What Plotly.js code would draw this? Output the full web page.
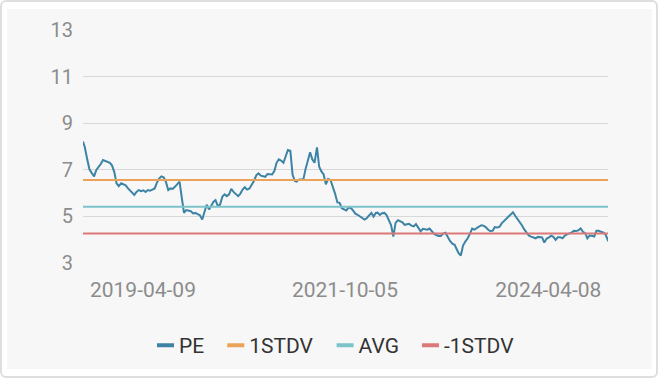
<!DOCTYPE html>
<html>
<head>
<meta charset="utf-8">
<script src="https://cdn.plot.ly/plotly-3.0.1.min.js"></script>
<style>
  html, body { margin: 0; padding: 0; background: #ffffff; }
  #frame { position: absolute; left: 0; top: 0; width: 658px; height: 378px; box-sizing: border-box;
           border: 2px solid #dedede; border-radius: 6px; background: #ffffff; }
  #chart { position: absolute; left: 7px; top: 9px; width: 645px; height: 360px; }
</style>
</head>
<body>
<div id="frame"></div>
<div id="chart"></div>
<script>
// ---- data ----
const dates = [
  '2018-07-13','2018-07-21','2018-08-01','2018-08-11','2018-08-21','2018-09-01','2018-09-11','2018-09-21',
  '2018-10-01','2018-10-11','2018-10-21','2018-11-01','2018-11-11','2018-11-21','2018-12-01','2018-12-11','2018-12-21',
  '2019-01-01','2019-01-11','2019-01-21','2019-02-01','2019-02-11','2019-02-21','2019-03-01','2019-03-11','2019-03-21',
  '2019-04-01','2019-04-11','2019-04-21','2019-05-01','2019-05-11','2019-05-21','2019-06-01','2019-06-11','2019-06-21',
  '2019-07-01','2019-07-11','2019-07-21','2019-08-01','2019-08-11','2019-08-21','2019-09-01','2019-09-11','2019-09-21',
  '2019-10-01','2019-10-11','2019-10-21','2019-11-01','2019-11-11','2019-11-21','2019-12-01','2019-12-11','2019-12-21',
  '2020-01-01','2020-01-11','2020-01-21','2020-02-01','2020-02-11','2020-02-21','2020-03-01','2020-03-11','2020-03-21',
  '2020-04-01','2020-04-11','2020-04-21','2020-05-01','2020-05-11','2020-05-21','2020-06-01','2020-06-11','2020-06-21',
  '2020-07-01','2020-07-11','2020-07-21','2020-08-01','2020-08-11','2020-08-21','2020-09-01','2020-09-11','2020-09-21',
  '2020-10-01','2020-10-11','2020-10-21','2020-11-01','2020-11-11','2020-11-21','2020-12-01','2020-12-11','2020-12-21',
  '2021-01-01','2021-01-11','2021-01-21','2021-02-01','2021-02-11','2021-02-21','2021-03-01','2021-03-11','2021-03-21',
  '2021-04-01','2021-04-11','2021-04-21','2021-05-01','2021-05-11','2021-05-21','2021-06-01','2021-06-11','2021-06-21',
  '2021-07-01','2021-07-11','2021-07-21','2021-08-01','2021-08-11','2021-08-21','2021-09-01','2021-09-11','2021-09-21',
  '2021-10-01','2021-10-11','2021-10-21','2021-11-01','2021-11-11','2021-11-21','2021-12-01','2021-12-11','2021-12-21',
  '2022-01-01','2022-01-11','2022-01-21','2022-02-01','2022-02-11','2022-02-21','2022-03-01','2022-03-11','2022-03-21',
  '2022-04-01','2022-04-11','2022-04-21','2022-05-01','2022-05-11','2022-05-21','2022-06-01','2022-06-11','2022-06-21',
  '2022-07-01','2022-07-11','2022-07-21','2022-08-01','2022-08-11','2022-08-21','2022-09-01','2022-09-11','2022-09-21',
  '2022-10-01','2022-10-11','2022-10-21','2022-11-01','2022-11-11','2022-11-21','2022-12-01','2022-12-11','2022-12-21',
  '2023-01-01','2023-01-11','2023-01-21','2023-02-01','2023-02-11','2023-02-21','2023-03-01','2023-03-11','2023-03-21',
  '2023-04-01','2023-04-11','2023-04-21','2023-05-01','2023-05-11','2023-05-21','2023-06-01','2023-06-11','2023-06-21',
  '2023-07-01','2023-07-11','2023-07-21','2023-08-01','2023-08-11','2023-08-21','2023-09-01','2023-09-11','2023-09-21',
  '2023-10-01','2023-10-11','2023-10-21','2023-11-01','2023-11-11','2023-11-21','2023-12-01','2023-12-11','2023-12-21',
  '2024-01-01','2024-01-11','2024-01-21','2024-02-01','2024-02-11','2024-02-21','2024-03-01','2024-03-11','2024-03-21',
  '2024-04-01','2024-04-11','2024-04-21','2024-05-01','2024-05-11','2024-05-21','2024-06-01','2024-06-11','2024-06-21',
  '2024-07-01','2024-07-11','2024-07-21','2024-08-01','2024-08-11','2024-08-21','2024-09-01','2024-09-11','2024-09-21',
  '2024-10-01','2024-10-11','2024-10-21','2024-11-01','2024-11-11','2024-11-21','2024-12-01','2024-12-11','2024-12-21',
  '2025-01-01','2025-01-02'
];

const pe = [
  8.21,7.98,7.45,7.02,6.87,6.72,6.99,7.10,
  7.25,7.42,7.38,7.33,7.30,7.18,6.90,6.42,6.30,
  6.42,6.38,6.33,6.20,6.10,6.00,5.92,6.05,6.13,
  6.08,6.12,6.05,6.13,6.10,6.15,6.20,6.45,6.62,
  6.72,6.68,6.50,6.13,6.20,6.18,6.28,6.40,6.49,
  5.80,5.15,5.27,5.25,5.22,5.13,5.15,5.10,5.06,
  4.87,5.20,5.50,5.30,5.45,5.63,5.70,5.45,5.50,
  5.85,5.95,5.87,5.95,6.18,6.05,5.95,5.87,5.98,
  6.15,6.25,6.15,6.20,6.35,6.52,6.77,6.85,6.75,
  6.72,6.70,6.82,6.80,6.80,6.95,7.30,7.45,7.40,
  7.30,7.60,7.85,7.82,6.80,6.52,6.49,6.57,6.58,
  6.60,7.05,7.35,7.75,7.45,7.30,7.96,7.13,6.93,
  6.80,6.38,6.60,6.56,6.30,5.99,5.60,5.58,5.35,
  5.30,5.25,5.38,5.36,5.25,5.12,5.07,5.00,4.92,
  4.86,4.92,5.05,5.15,4.99,5.15,5.16,5.06,5.14,
  5.15,5.05,4.85,4.62,4.13,4.72,4.84,4.80,4.75,
  4.64,4.67,4.68,4.60,4.57,4.67,4.50,4.36,4.47,
  4.45,4.43,4.48,4.36,4.25,4.20,4.16,4.16,4.26,
  4.30,4.10,3.95,3.83,3.78,3.58,3.42,3.32,3.75,
  3.93,4.06,4.25,4.48,4.43,4.50,4.57,4.62,4.60,
  4.54,4.44,4.37,4.38,4.54,4.52,4.55,4.70,4.80,
  4.88,4.98,5.10,5.18,5.03,4.90,4.75,4.62,4.45,
  4.28,4.18,4.13,4.10,4.06,4.12,4.12,4.10,3.88,
  4.05,4.10,4.17,4.12,3.99,4.10,4.10,4.06,4.17,
  4.23,4.27,4.30,4.38,4.37,4.40,4.48,4.34,4.28,
  4.06,4.18,4.17,4.14,4.38,4.38,4.34,4.31,4.24,
  3.99,4.00
];

const seriesNames = ['PE', '1STDV', 'AVG', '-1STDV'];
const stdvUp = 6.56;
const avg = 5.41;
const stdvDown = 4.27;

const yTicks = [3, 5, 7, 9, 11, 13];
const xTickVals = ['2019-04-09', '2021-10-05', '2024-04-08'];
const xTickText = ['2019-04-09', '2021-10-05', '2024-04-08'];

// ---- styling ----
const colors = ['#3d83a6', '#eba35a', '#7cc4ca', '#dc7878'];
const fontFamily = 'Roboto, "Noto Sans", sans-serif';

const first = dates[0], last = dates[dates.length - 1];
const flat = v => [v, v];

const traces = [
  { x: dates, y: pe, name: seriesNames[0], type: 'scatter', mode: 'lines',
    line: { color: colors[0], width: 2 } },
  { x: [first, last], y: flat(stdvUp), name: seriesNames[1], type: 'scatter', mode: 'lines',
    line: { color: colors[1], width: 2 } },
  { x: [first, last], y: flat(avg), name: seriesNames[2], type: 'scatter', mode: 'lines',
    line: { color: colors[2], width: 2 } },
  { x: [first, last], y: flat(stdvDown), name: seriesNames[3], type: 'scatter', mode: 'lines',
    line: { color: colors[3], width: 2 } }
];

const layout = {
  width: 645, height: 360,
  margin: { l: 76, r: 44, t: 21, b: 106 },
  paper_bgcolor: '#f7f7f7', plot_bgcolor: '#f7f7f7',
  font: { family: fontFamily, color: '#333333' },
  showlegend: true,
  legend: {
    orientation: 'h', xref: 'container', yref: 'container',
    x: 0.5, xanchor: 'center', y: 0.065, yanchor: 'middle',
    font: { size: 21, color: '#333333', family: fontFamily },
    bgcolor: 'rgba(0,0,0,0)', traceorder: 'normal'
  },
  xaxis: {
    type: 'date', range: [first, last],
    tickmode: 'array', tickvals: xTickVals, ticktext: xTickText,
    showgrid: false, zeroline: false, showline: false,
    ticks: 'outside', ticklen: 8, tickcolor: 'rgba(0,0,0,0)',
    tickfont: { size: 21, color: '#8c8c8c', family: fontFamily }
  },
  yaxis: {
    range: [3, 13], tickmode: 'array', tickvals: yTicks,
    showgrid: true, gridcolor: '#d8d8d8', gridwidth: 1,
    zeroline: false, showline: false,
    ticks: 'outside', ticklen: 5, tickcolor: 'rgba(0,0,0,0)',
    tickfont: { size: 20, color: '#8c8c8c', family: fontFamily }
  }
};

Plotly.newPlot('chart', traces, layout, { displayModeBar: false, staticPlot: true }).then(gd => {
  // shorter, thicker legend swatches as in the reference
  gd.querySelectorAll('.legend .legendlines path').forEach(p => {
    p.setAttribute('d', 'M18,0h17');
    p.style.strokeWidth = '4px';
  });
});
</script>
</body>
</html>
